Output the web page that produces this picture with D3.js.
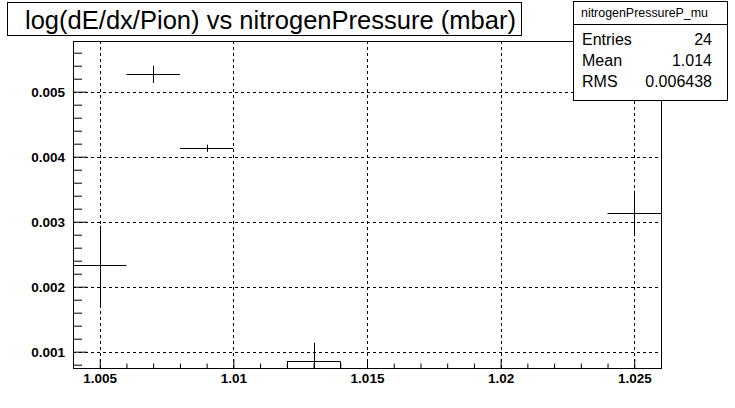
<!DOCTYPE html>
<html>
<head>
<meta charset="utf-8">
<script src="https://cdn.jsdelivr.net/npm/d3@7"></script>
<style>
  body { margin: 0; background: #fff; }
  text { font-family: "Liberation Sans", Arial, sans-serif; }
</style>
</head>
<body>
<svg width="735" height="408"></svg>
<script>
// profile of log(dE/dx/Pion) in bins of nitrogen pressure

const binLow = [1.004, 1.006, 1.008, 1.012, 1.024];
const binHigh = [1.006, 1.008, 1.010, 1.014, 1.026];
const binCenter = [1.005, 1.007, 1.009, 1.013, 1.025];
const meanVal = [0.002329, 0.005268, 0.004129, 0.000852, 0.003129];
const errVal = [0.00061, 0.000133, 0.000055, 0.000286, 0.000349];

const xTicks = [1.005, 1.01, 1.015, 1.02, 1.025];
const xTickLabels = ["1.005", "1.01", "1.015", "1.02", "1.025"];
const yTicks = [0.001, 0.002, 0.003, 0.004, 0.005];
const yTickLabels = ["0.001", "0.002", "0.003", "0.004", "0.005"];

const titleText = "log(dE/dx/Pion) vs nitrogenPressure (mbar)";
const statsName = "nitrogenPressureP_mu";
const statsLabels = ["Entries", "Mean", "RMS"];
const statsValues = ["24", "1.014", "0.006438"];

var svg = d3.select("svg");

// frame edges
var fL = 73, fR = 661, fT = 41, fB = 368;

var xScale = d3.scaleLinear().domain([1.004, 1.026]).range([fL, fR]);
var yScale = d3.scaleLinear().domain([0.000749, 0.00578]).range([fB, fT]);

svg.append("rect").attr("width", 735).attr("height", 408).attr("fill", "#fff");

svg.append("clipPath").attr("id", "frameclip")
    .append("rect")
    .attr("x", fL).attr("y", fT)
    .attr("width", fR - fL).attr("height", fB - fT);

// grid
var grid = svg.append("g")
    .attr("stroke", "#000")
    .attr("stroke-width", 1)
    .attr("stroke-dasharray", "3,3");

grid.selectAll(".vgrid")
    .data(xTicks)
    .enter()
    .append("line")
    .attr("x1", d => Math.round(xScale(d)) + 0.5)
    .attr("x2", d => Math.round(xScale(d)) + 0.5)
    .attr("y1", fB)
    .attr("y2", fT);

grid.selectAll(".hgrid")
    .data(yTicks)
    .enter()
    .append("line")
    .attr("x1", fL)
    .attr("x2", fR)
    .attr("y1", d => Math.round(yScale(d)) + 0.5)
    .attr("y2", d => Math.round(yScale(d)) + 0.5);

// axes (ticks point into the frame)
svg.append("g")
    .attr("transform", "translate(0," + fB + ")")
    .call(d3.axisBottom(xScale)
        .tickValues(xTicks)
        .tickFormat((d, i) => xTickLabels[i])
        .tickSizeInner(-9)
        .tickSizeOuter(0)
        .tickPadding(5));

svg.append("g")
    .attr("transform", "translate(0," + fB + ")")
    .call(d3.axisBottom(xScale)
        .tickValues(d3.range(1.005, 1.0255, 0.001).filter(v => xTicks.every(t => Math.abs(t - v) > 1e-6)))
        .tickFormat("")
        .tickSizeInner(-4.5)
        .tickSizeOuter(0))
    .select(".domain").remove();

svg.append("g")
    .attr("transform", "translate(" + fL + ",0)")
    .call(d3.axisLeft(yScale)
        .tickValues(yTicks)
        .tickFormat((d, i) => yTickLabels[i])
        .tickSizeInner(-14)
        .tickSizeOuter(0)
        .tickPadding(8));

svg.append("g")
    .attr("transform", "translate(" + fL + ",0)")
    .call(d3.axisLeft(yScale)
        .tickValues(d3.range(0.0008, 0.00578, 0.0002).filter(v => yTicks.every(t => Math.abs(t - v) > 1e-9)))
        .tickFormat("")
        .tickSizeInner(-9)
        .tickSizeOuter(0))
    .select(".domain").remove();

svg.selectAll(".tick text")
    .attr("fill", "#000")
    .style("font", "bold 13.5px 'Liberation Sans', Arial, sans-serif");
svg.selectAll(".tick line").attr("stroke", "#000");

// profile points
var pts = svg.append("g")
    .attr("clip-path", "url(#frameclip)")
    .attr("stroke", "#000")
    .attr("stroke-width", 1)
    .attr("fill", "none");

binCenter.forEach(function(c, i) {
    var ym = Math.round(yScale(meanVal[i])) + 0.5;
    var xc = Math.round(xScale(c)) + 0.5;
    var x1 = xScale(binLow[i]), x2 = xScale(binHigh[i]);
    pts.append("line").attr("x1", x1).attr("x2", x2).attr("y1", ym).attr("y2", ym);
    pts.append("line").attr("x1", xc).attr("x2", xc)
        .attr("y1", yScale(meanVal[i] + errVal[i]))
        .attr("y2", yScale(meanVal[i] - errVal[i]));
    // lower error leaves the frame: ROOT closes the bin down to the axis
    if (meanVal[i] - errVal[i] < yScale.domain()[0]) {
        pts.append("line").attr("x1", Math.round(x1) + 0.5).attr("x2", Math.round(x1) + 0.5).attr("y1", ym).attr("y2", fB);
        pts.append("line").attr("x1", Math.round(x2) + 0.5).attr("x2", Math.round(x2) + 0.5).attr("y1", ym).attr("y2", fB);
    }
});

// frame
svg.append("rect")
    .attr("x", fL + 0.5).attr("y", fT + 0.5)
    .attr("width", fR - fL).attr("height", fB - fT)
    .attr("fill", "none")
    .attr("stroke", "#000");

// title box
svg.append("rect")
    .attr("x", 7.5).attr("y", 2.5)
    .attr("width", 514).attr("height", 33)
    .attr("fill", "#fff").attr("stroke", "#000");

svg.append("text")
    .attr("x", 25).attr("y", 29)
    .attr("font-size", "25px")
    .attr("textLength", 491)
    .attr("lengthAdjust", "spacingAndGlyphs")
    .text(titleText);

// stats box
var stats = svg.append("g");
stats.append("rect")
    .attr("x", 573.5).attr("y", 1.5)
    .attr("width", 154).attr("height", 99)
    .attr("fill", "#fff").attr("stroke", "#000");
stats.append("line")
    .attr("x1", 573.5).attr("x2", 727.5)
    .attr("y1", 24.5).attr("y2", 24.5)
    .attr("stroke", "#000");
stats.append("text")
    .attr("x", 644.5).attr("y", 17)
    .attr("text-anchor", "middle")
    .attr("font-size", "12px")
    .attr("textLength", 127)
    .attr("lengthAdjust", "spacingAndGlyphs")
    .text(statsName);

var rowY = d3.scalePoint().domain(statsLabels).range([45, 87]);
stats.selectAll(".slabel")
    .data(statsLabels)
    .enter()
    .append("text")
    .attr("x", 582)
    .attr("y", d => rowY(d))
    .attr("font-size", "16px")
    .text(d => d);
stats.selectAll(".svalue")
    .data(statsValues)
    .enter()
    .append("text")
    .attr("x", 712)
    .attr("y", (d, i) => rowY(statsLabels[i]))
    .attr("text-anchor", "end")
    .attr("font-size", "16px")
    .text(d => d);
</script>
</body>
</html>
